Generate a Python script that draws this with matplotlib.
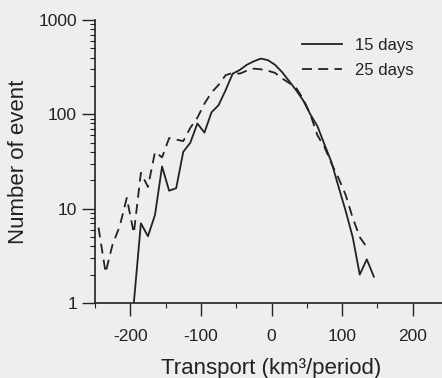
import matplotlib
matplotlib.use("Agg")
import matplotlib.pyplot as plt
from matplotlib.ticker import MultipleLocator, LogLocator, NullFormatter, FixedLocator

# ---- data ----
x15 = [-195, -185, -175, -165, -155, -145, -135, -125, -115, -105,
       -95, -85, -75, -65, -55, -45, -35, -25, -15, -5,
       5, 15, 25, 35, 45, 55, 65, 75, 85, 95,
       105, 115, 125, 135, 145]
y15 = [1.0, 7.0, 5.1, 8.6, 28, 15.5, 16.5, 40, 50, 80,
       64, 105, 125, 180, 270, 295, 335, 365, 390, 375,
       335, 280, 225, 180, 140, 100, 75, 48, 31, 17,
       9.5, 5.0, 2.0, 2.9, 1.9]

x25 = [-245, -235, -225, -215, -205, -195, -185, -175, -165, -155,
       -145, -135, -125, -115, -105, -95, -85, -75, -65, -55,
       -45, -35, -25, -15, -5, 5, 15, 25, 35, 45,
       55, 65, 75, 85, 95, 105, 115, 125, 135]
y25 = [6.3, 2.1, 4.2, 6.5, 13, 5.5, 24, 17, 40, 35,
       56, 54, 52, 72, 92, 130, 170, 205, 260, 275,
       270, 290, 305, 300, 290, 275, 240, 215, 190, 145,
       100, 60, 45, 30, 21, 14, 8.0, 5.0, 3.9]

labels = ["15 days", "25 days"]
xticks = [-200, -100, 0, 100, 200]
yticks = [1, 10, 100, 1000]
ytick_labels = ["1", "10", "100", "1000"]

plt.rcParams['font.family'] = ['Liberation Sans', 'DejaVu Sans']
ink = '#222222'
bg = '#eeeeee'

fig = plt.figure(figsize=(4.42, 3.78), dpi=100, facecolor=bg)
ax = fig.add_axes([95/442, 75/378, 353/442, 283/378])
ax.set_facecolor(bg)

ax.plot(x15, y15, color=ink, lw=1.3, label=labels[0])
ax.plot(x25, y25, color=ink, lw=1.3, dashes=(5.5, 3.5), label=labels[1])

ax.set_yscale('log')
ax.set_ylim(1, 1000)
ax.set_xlim(-250, 250)

ax.yaxis.set_major_locator(FixedLocator(yticks))
ax.set_yticklabels(ytick_labels)
ax.yaxis.set_minor_locator(LogLocator(base=10, subs=range(2, 10)))
ax.yaxis.set_minor_formatter(NullFormatter())
ax.set_xticks(xticks)
ax.set_xticklabels([str(t) for t in xticks])
ax.xaxis.set_minor_locator(MultipleLocator(50))

for s in ['top', 'right']:
    ax.spines[s].set_visible(False)
for s in ['left', 'bottom']:
    ax.spines[s].set_color(ink)
    ax.spines[s].set_linewidth(1.2)

ax.tick_params(which='major', length=9.5, width=1.0, color=ink,
               labelsize=12.5, labelcolor=ink, direction='out')
ax.tick_params(which='minor', length=3.6, width=0.8, color=ink, direction='out')
ax.tick_params(axis='y', which='major', pad=3.5)
ax.tick_params(axis='x', which='major', pad=9)

ax.set_xlabel("Transport (km³/period)", fontsize=16, color=ink, labelpad=10)
ax.set_ylabel("Number of event", fontsize=16, color=ink, labelpad=7)

ax.legend(loc='upper left', bbox_to_anchor=(0.545, 0.99), frameon=False,
          fontsize=12, handlelength=2.4, handletextpad=0.75, labelspacing=0.6,
          labelcolor=ink)

fig.savefig('out.png', dpi=100, facecolor=bg)
